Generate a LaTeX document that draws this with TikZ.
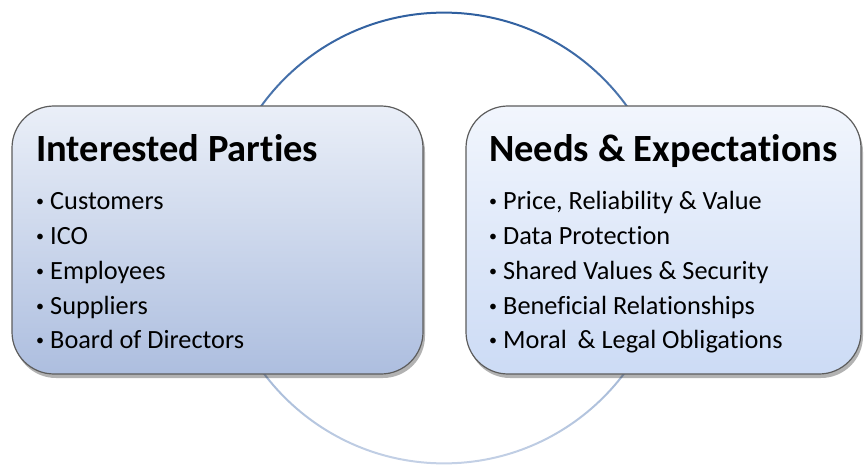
\documentclass[tikz,border=0pt]{standalone}
\usepackage{fontspec}
\setmainfont[Ligatures=NoCommon]{Carlito}
\usetikzlibrary{shadows}
\definecolor{circtop}{HTML}{2F5F9F}
\definecolor{circbot}{HTML}{C4D1E6}
\definecolor{ltop}{HTML}{EAEFF8}
\definecolor{lbot}{HTML}{ADBEDF}
\definecolor{rtop}{HTML}{F2F6FD}
\definecolor{rbot}{HTML}{CCDBF5}
\definecolor{boxline}{HTML}{5C5C5C}
\newcommand{\bul}{\makebox[14pt][l]{\fontsize{16}{16}\selectfont\raisebox{3pt}{•}}}
\tikzset{
  panel/.style={draw=boxline, line width=1.2pt, rounded corners=42pt, inner sep=0pt,
    minimum height=268pt,
    drop shadow={shadow xshift=2pt, shadow yshift=-4pt, fill=black, opacity=0.3}},
  ttl/.style={anchor=base west, inner sep=0pt, font=\fontsize{38.5}{38.5}\selectfont\bfseries},
  itm/.style={anchor=base west, inner sep=0pt, font=\fontsize{26.3}{26.3}\selectfont}
}
\begin{document}
\begin{tikzpicture}[x=1pt,y=1pt]
\useasboundingbox (0,0) rectangle (864,464);
\coordinate (cc) at (444,226);
\shade[top color=circtop, bottom color=circbot, even odd rule] (cc) circle (226.4) circle (224.4);
\node (ip) [panel, top color=ltop, bottom color=lbot, minimum width=411pt] at (217.5,224) {};
\node (ne) [panel, top color=rtop, bottom color=rbot, minimum width=395pt] at (663.5,224) {};
\node (t1) [ttl] at (36,302) {Interested Parties};
\node (a1) [itm] at (36,255) {\bul Customers};
\node (a2) [itm] at (36,220) {\bul ICO};
\node (a3) [itm] at (36,185) {\bul Employees};
\node (a4) [itm] at (36,150) {\bul Suppliers};
\node (a5) [itm] at (36,116) {\bul Board of Directors};
\node (t2) [ttl] at (489,302) {Needs \& Expectations};
\node (b1) [itm] at (489,255) {\bul Price, Reliability \& Value};
\node (b2) [itm] at (489,220) {\bul Data Protection};
\node (b3) [itm] at (489,185) {\bul Shared Values \& Security};
\node (b4) [itm] at (489,150) {\bul Beneficial Relationships};
\node (b5) [itm] at (489,116) {\bul Moral\hspace{5pt} \& Legal Obligations};
\end{tikzpicture}
\end{document}
